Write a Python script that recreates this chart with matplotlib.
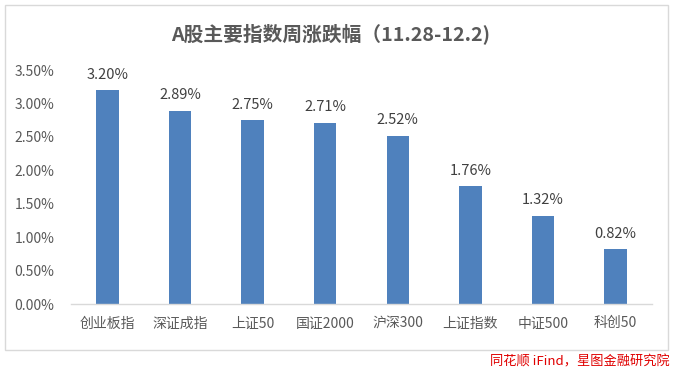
import matplotlib
matplotlib.use("Agg")
import matplotlib.pyplot as plt
from matplotlib.patches import Rectangle
from matplotlib.ticker import FuncFormatter

plt.rcParams['font.family'] = ['Noto Sans CJK SC', 'DejaVu Sans']

categories = ["创业板指", "深证成指", "上证50", "国证2000", "沪深300", "上证指数", "中证500", "科创50"]
values = [3.20, 2.89, 2.75, 2.71, 2.52, 1.76, 1.32, 0.82]
yticks = [0.0, 0.5, 1.0, 1.5, 2.0, 2.5, 3.0, 3.5]
title = "A股主要指数周涨跌幅（11.28-12.2)"
source = "同花顺 iFind，星图金融研究院"

fig = plt.figure(figsize=(6.75, 3.71), dpi=100)
fig.patch.set_facecolor("white")

# outer border
fig.patches.append(Rectangle((5/675, 1-350/371), 663/675, 345/371, transform=fig.transFigure,
                             fill=False, edgecolor="#d9d9d9", linewidth=1.0))

ax = fig.add_axes([71/675, 1-304/371, 581/675, 234/371])
x = list(range(len(categories)))
bars = ax.bar(x, values, width=0.31, color="#4f81bd")
ax.set_xlim(-0.5, len(categories) - 0.5)
ax.set_ylim(0, 3.5)
ax.set_yticks(yticks)
ax.yaxis.set_major_formatter(FuncFormatter(lambda v, p: f"{v:.2f}%"))
ax.set_xticks(x)
ax.set_xticklabels(categories)
for s in ["top", "right", "left"]:
    ax.spines[s].set_visible(False)
ax.spines["bottom"].set_color("#d9d9d9")
ax.spines["bottom"].set_linewidth(1.0)
ax.tick_params(axis="both", length=0, labelsize=10, labelcolor="#595959")
ax.tick_params(axis="y", pad=12)
ax.tick_params(axis="x", pad=9)

for xi, v in zip(x, values):
    ax.annotate(f"{v:.2f}%", (xi, v), xytext=(0, 6), textcoords="offset points",
                ha="center", va="bottom", fontsize=10.5, color="#404040")

fig.text(331/675, 1-34/371, title, ha="center", va="center", fontsize=14.2,
         fontweight="bold", color="#595959")
fig.text(670/675, 1-362/371, source, ha="right", va="center", fontsize=9.5,
         style="italic", color="#e00000")

fig.savefig("out.png", dpi=100)
